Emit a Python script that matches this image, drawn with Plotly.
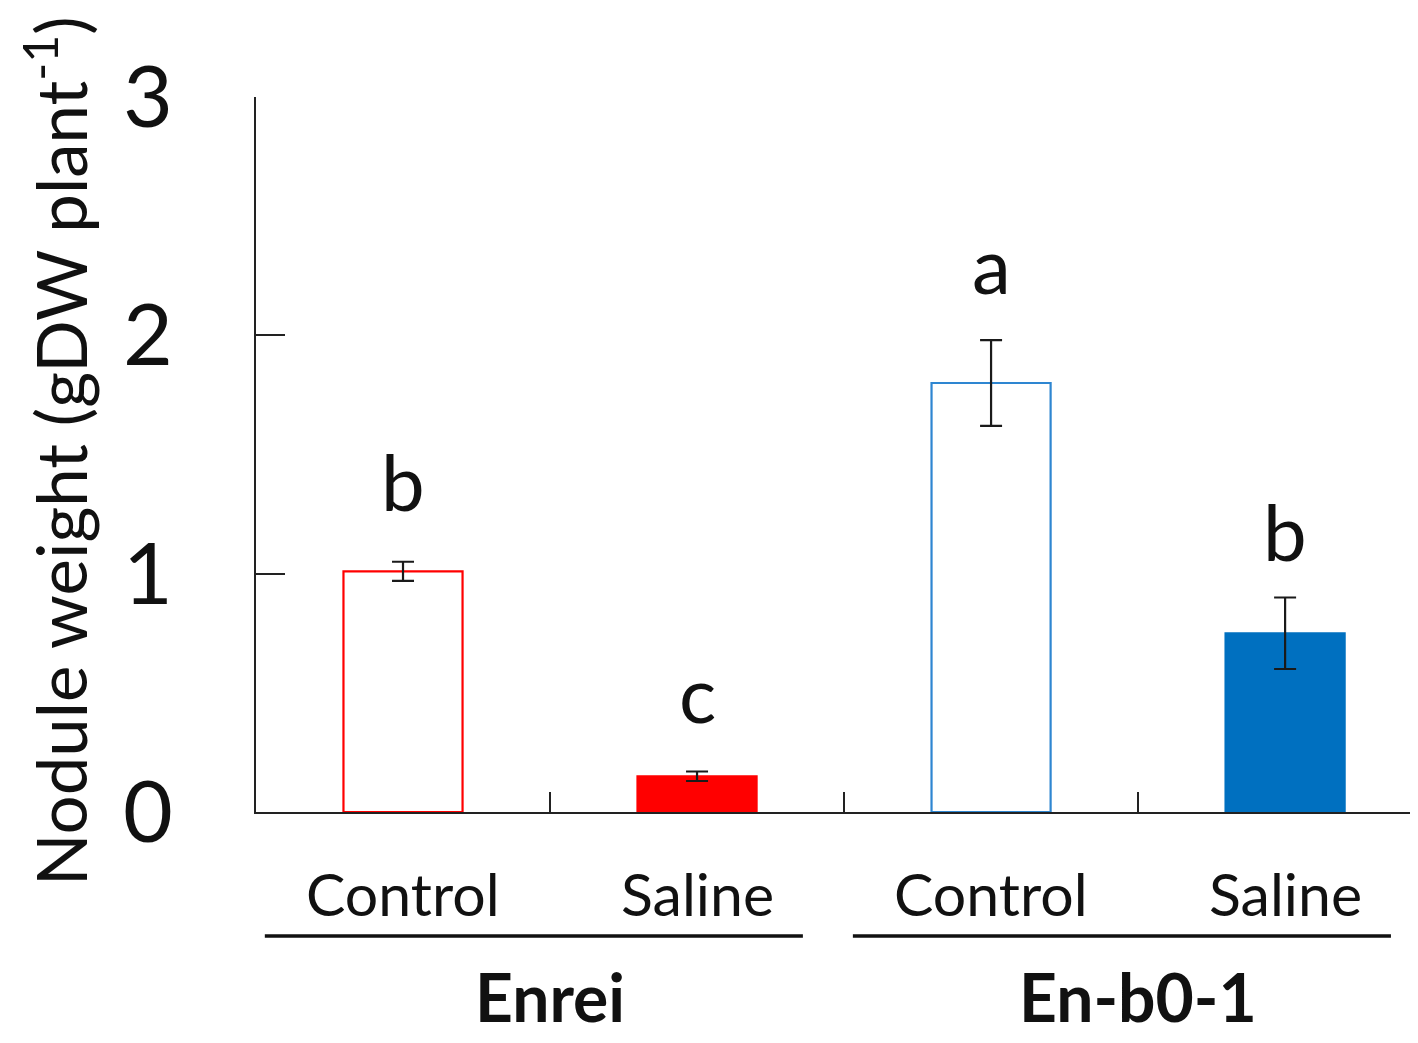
import plotly.graph_objects as go

categories = ["Control", "Saline", "Control", "Saline"]
groups = ["Enrei", "En-b0-1"]
group_members = [[0, 1], [2, 3]]
values = [1.01, 0.15, 1.80, 0.75]
errors = [0.04, 0.02, 0.18, 0.15]
letters = ["b", "c", "a", "b"]
letter_y = [1.39, 0.50, 2.30, 1.18]
y_ticks = [0, 1, 2, 3]

fill_colors = ["#FFFFFF", "#FF0000", "#FFFFFF", "#0070C0"]
line_colors = ["#FF0000", "#FF0000", "#2E86D1", "#0070C0"]

FONT = "Lato, 'Noto Sans', sans-serif"
x = list(range(len(categories)))

X_RANGE = [-0.5, 3.452]
Y_RANGE = [0, 3]


def px_(v):
    return (v - X_RANGE[0]) / (X_RANGE[1] - X_RANGE[0])


def py_(v):
    return (v - Y_RANGE[0]) / (Y_RANGE[1] - Y_RANGE[0])


fig = go.Figure()
fig.add_trace(go.Bar(
    x=x, y=values, width=0.405,
    marker=dict(color=fill_colors, line=dict(color=line_colors, width=2.2)),
    error_y=dict(type="data", array=errors, visible=True, color="#1a1a1a",
                 thickness=2.2, width=11),
    cliponaxis=False,
))

ann = []
for xi, t, ly in zip(x, letters, letter_y):
    ann.append(dict(x=xi, y=ly, xref="x", yref="y", text=t, showarrow=False,
                    font=dict(family=FONT, size=78, color="#111"),
                    xanchor="center", yanchor="middle"))
for xi, c in zip(x, categories):
    ann.append(dict(x=px_(xi), y=py_(-0.34), xref="paper", yref="paper", text=c,
                    showarrow=False,
                    font=dict(family=FONT, size=59, color="#111"),
                    xanchor="center", yanchor="middle"))
shapes = []
for g, mem in zip(groups, group_members):
    cx = (mem[0] + mem[-1]) / 2
    ann.append(dict(x=px_(cx), y=py_(-0.775), xref="paper", yref="paper",
                    text="<b>" + g + "</b>",
                    showarrow=False, font=dict(family=FONT, size=66, color="#111"),
                    xanchor="center", yanchor="middle"))
    shapes.append(dict(type="line", xref="paper", yref="paper",
                       x0=px_(mem[0] - 0.47), x1=px_(mem[-1] + 0.36),
                       y0=py_(-0.52), y1=py_(-0.52),
                       line=dict(color="#111", width=3.5)))

ann.append(dict(x=-0.172, y=0.505, xref="paper", yref="paper",
                text="Nodule weight (gDW plant<sup>-1</sup>)", textangle=-90,
                showarrow=False, font=dict(family=FONT, size=69, color="#111"),
                xanchor="center", yanchor="middle"))

fig.update_layout(
    width=1410, height=1035,
    margin=dict(l=248, r=0, t=89, b=231, autoexpand=False),
    paper_bgcolor="white", plot_bgcolor="white",
    showlegend=False,
    annotations=ann, shapes=shapes,
    xaxis=dict(range=X_RANGE, tickmode="array", tickvals=[0.5, 1.5, 2.5],
               ticks="inside", ticklen=20, tickwidth=2, tickcolor="#222",
               showticklabels=False, showline=True, linecolor="#222", linewidth=2,
               showgrid=False, zeroline=False, fixedrange=True),
    yaxis=dict(range=Y_RANGE, tickmode="array", tickvals=y_ticks,
               ticks="inside", ticklen=29, tickwidth=2, tickcolor="#222",
               showline=True, linecolor="#222", linewidth=2,
               showgrid=False, zeroline=False,
               tickfont=dict(family=FONT, size=86, color="#111"),
               ticklabelstandoff=64, fixedrange=True),
)

fig.write_html("out.html")
